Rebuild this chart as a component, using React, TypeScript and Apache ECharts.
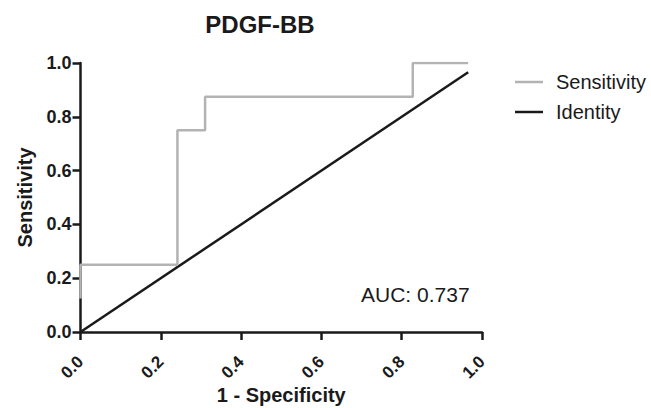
import React, { useEffect, useRef } from "react";
import * as echarts from "echarts";

const sensitivityX = [0, 0, 0.2414, 0.2414, 0.3103, 0.3103, 0.8276, 0.8276, 0.9655];
const sensitivityY = [0.125, 0.25, 0.25, 0.75, 0.75, 0.875, 0.875, 1.0, 1.0];
const identityX = [0, 0.9655];
const identityY = [0, 0.9655];
const tickValues = [0, 0.2, 0.4, 0.6, 0.8, 1.0];
const aucText = "AUC: 0.737";

const FONT = "'Liberation Sans', Arial, Helvetica, sans-serif";

export default function App() {
  const ref = useRef<HTMLDivElement>(null);
  useEffect(() => {
    if (!ref.current) return;
    const chart = echarts.init(ref.current, null, { renderer: "svg" });
    const axisCommon = {
      type: "value" as const,
      min: tickValues[0],
      max: tickValues[tickValues.length - 1],
      interval: 0.2,
      splitLine: { show: false },
      nameMoveOverlap: false,
      axisLine: { show: true, lineStyle: { color: "#1a1a1a", width: 2.5 } },
      axisTick: { show: true, length: 8, lineStyle: { color: "#1a1a1a", width: 2.5 } },
    };
    chart.setOption({
      animation: false,
      backgroundColor: "#ffffff",
      title: {
        text: "PDGF-BB",
        left: 255,
        top: 7,
        textAlign: "center",
        textStyle: { fontFamily: FONT, fontWeight: "bold", fontSize: 24, color: "#1a1a1a" },
      },
      grid: { left: 80.5, right: 169, top: 63, bottom: 76, outerBoundsMode: "none", containLabel: false },
      legend: {
        orient: "vertical",
        left: 510,
        top: 67,
        itemWidth: 28,
        itemHeight: 2.5,
        itemGap: 10,
        icon: "rect",
        textStyle: { fontFamily: FONT, fontSize: 20, color: "#1a1a1a", padding: [0, 0, 0, 8] },
        data: ["Sensitivity", "Identity"],
      },
      xAxis: {
        ...axisCommon,
        name: "1 - Specificity",
        nameLocation: "middle",
        nameGap: 53,
        nameTextStyle: { fontFamily: FONT, fontWeight: "bold", fontSize: 20, color: "#1a1a1a" },
        axisLabel: {
          rotate: 45,
          margin: 27,
          fontFamily: FONT,
          fontWeight: "bold",
          fontSize: 17,
          color: "#1a1a1a",
          formatter: (v: number) => v.toFixed(1),
        },
      },
      yAxis: {
        ...axisCommon,
        name: "Sensitivity",
        nameLocation: "middle",
        nameGap: 46,
        nameTextStyle: { fontFamily: FONT, fontWeight: "bold", fontSize: 20, color: "#1a1a1a" },
        axisLabel: {
          margin: 9,
          fontFamily: FONT,
          fontWeight: "bold",
          fontSize: 18,
          color: "#1a1a1a",
          formatter: (v: number) => v.toFixed(1),
        },
      },
      graphic: [
        {
          type: "text",
          left: 361,
          top: 284,
          style: { text: aucText, fontFamily: FONT, fontSize: 21, fill: "#1a1a1a" },
        },
      ],
      series: [
        {
          name: "Identity",
          type: "line",
          symbol: "none",
          color: "#1a1a1a",
          lineStyle: { color: "#1a1a1a", width: 2.5 },
          data: identityX.map((x, i) => [x, identityY[i]]),
          z: 2,
        },
        {
          name: "Sensitivity",
          type: "line",
          symbol: "none",
          color: "#b3b3b3",
          lineStyle: { color: "#b3b3b3", width: 2.5 },
          data: sensitivityX.map((x, i) => [x, sensitivityY[i]]),
          z: 3,
        },
      ],
    });
    return () => chart.dispose();
  }, []);
  return <div ref={ref} style={{ width: 651, height: 408, position: "absolute", left: 0, top: 0 }} />;
}
